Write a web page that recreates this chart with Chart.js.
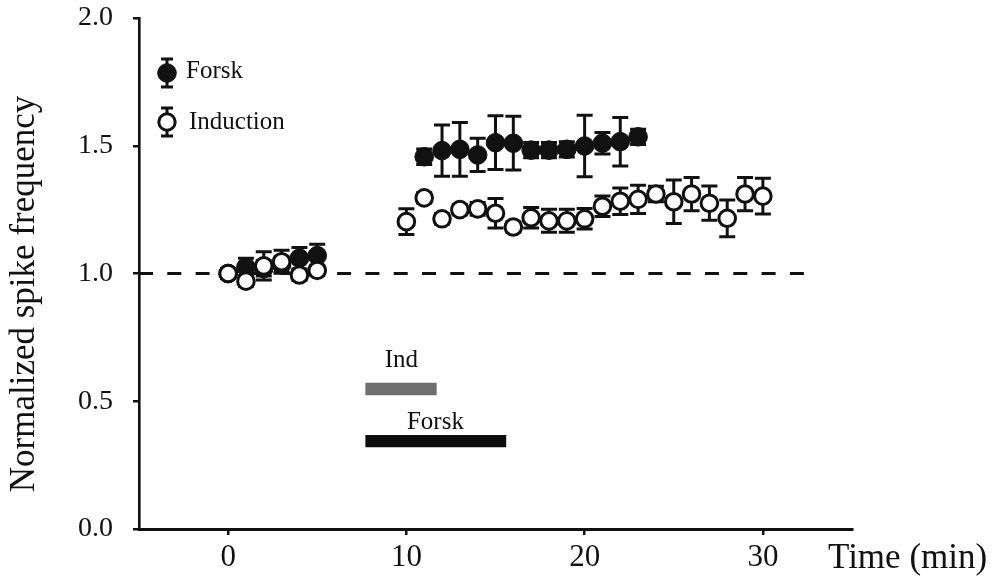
<!DOCTYPE html>
<html>
<head>
<meta charset="utf-8">
<script src="https://cdn.jsdelivr.net/npm/chart.js@4.4.1/dist/chart.umd.min.js"></script>
<style>
  html, body { margin: 0; padding: 0; background: #fff; }
  #wrap { width: 992px; height: 581px; }
</style>
</head>
<body>
<div id="wrap"><canvas id="c" width="992" height="581"></canvas></div>
<script>
// Induction (open circles): time in minutes, normalized mean, SEM
const timeInduction = [0, 1, 2, 3, 4, 5, 10, 11, 12, 13, 14, 15, 16, 17, 18, 19, 20, 21, 22, 23, 24, 25, 26, 27, 28, 29, 30];
const meanInduction = [1.00, 0.97, 1.03, 1.046, 0.994, 1.012, 1.203, 1.296, 1.214, 1.25, 1.253, 1.236, 1.182, 1.218, 1.206, 1.206, 1.214, 1.263, 1.283, 1.29, 1.311, 1.281, 1.311, 1.275, 1.216, 1.311, 1.303];
const semInduction  = [0.02, 0.02, 0.055, 0.045, 0.02, 0.02, 0.05, 0.02, 0.02, 0.02, 0.025, 0.058, 0.02, 0.04, 0.045, 0.045, 0.04, 0.04, 0.052, 0.055, 0.03, 0.085, 0.065, 0.067, 0.072, 0.065, 0.07];

// Forskolin (filled circles)
const timeForsk = [0, 1, 2, 3, 4, 5, 11, 12, 13, 14, 15, 16, 17, 18, 19, 20, 21, 22, 23];
const meanForsk = [1.00, 1.025, 1.02, 1.035, 1.06, 1.07, 1.457, 1.481, 1.486, 1.464, 1.512, 1.51, 1.483, 1.483, 1.486, 1.499, 1.51, 1.516, 1.535];
const semForsk  = [0.02, 0.035, 0.03, 0.03, 0.042, 0.044, 0.03, 0.10, 0.105, 0.065, 0.105, 0.105, 0.03, 0.03, 0.03, 0.12, 0.042, 0.095, 0.03];

// Baseline reference (normalized = 1)
const baselineX = [-5, 33];
const baselineY = [1, 1];

// Application periods (minutes) and the level where each bar is drawn
const indPeriod = [7.7, 11.7];
const indPeriodLevel = 0.548;
const forskPeriod = [7.7, 15.6];
const forskPeriodLevel = 0.344;

// Axis ticks
const xTickValues = [0, 10, 20, 30];
const yTickValues = [0, 0.5, 1.0, 1.5, 2.0];

const INK = '#111';
const SERIF = '"Liberation Serif", "Times New Roman", serif';

const toPoints = (xs, ys) => xs.map((x, i) => ({ x: x, y: ys[i] }));

// Vertical error bars with caps, drawn under the markers
const errorBars = {
  id: 'errorBars',
  beforeDatasetsDraw(chart) {
    const { ctx, scales: { x, y } } = chart;
    ctx.save();
    ctx.strokeStyle = INK;
    ctx.lineWidth = 3;
    ctx.lineCap = 'butt';
    chart.data.datasets.forEach((ds) => {
      if (!ds.errors) return;
      ds.data.forEach((p, i) => {
        const e = ds.errors[i];
        const px = x.getPixelForValue(p.x);
        const top = y.getPixelForValue(p.y + e);
        const bot = y.getPixelForValue(p.y - e);
        const hw = 8;
        ctx.beginPath();
        ctx.moveTo(px, top); ctx.lineTo(px, bot);
        ctx.moveTo(px - hw, top); ctx.lineTo(px + hw, top);
        ctx.moveTo(px - hw, bot); ctx.lineTo(px + hw, bot);
        ctx.stroke();
      });
    });
    ctx.restore();
  }
};

// Axis titles, legend and period labels
const annotations = {
  id: 'annotations',
  afterDraw(chart) {
    const { ctx, scales: { x, y } } = chart;
    ctx.save();
    ctx.fillStyle = INK;

    // y axis title
    ctx.save();
    ctx.translate(25, 294);
    ctx.rotate(-Math.PI / 2);
    ctx.font = '35px ' + SERIF;
    ctx.textAlign = 'center';
    ctx.textBaseline = 'middle';
    ctx.fillText('Normalized spike frequency', 0, 0);
    ctx.restore();

    // x axis title
    ctx.font = '35px ' + SERIF;
    ctx.textAlign = 'left';
    ctx.textBaseline = 'alphabetic';
    ctx.fillText('Time (min)', 828, 568);

    // legend
    const drawKey = (cx, cy, filled, label, tx, ty) => {
      ctx.strokeStyle = INK;
      ctx.lineWidth = 3;
      ctx.beginPath();
      ctx.moveTo(cx, cy - 14); ctx.lineTo(cx, cy + 14);
      ctx.moveTo(cx - 6, cy - 14); ctx.lineTo(cx + 6, cy - 14);
      ctx.moveTo(cx - 6, cy + 14); ctx.lineTo(cx + 6, cy + 14);
      ctx.stroke();
      ctx.beginPath();
      ctx.arc(cx, cy, filled ? 9.3 : 8.2, 0, Math.PI * 2);
      ctx.fillStyle = filled ? INK : '#fff';
      ctx.fill();
      ctx.lineWidth = filled ? 1 : 3;
      ctx.stroke();
      ctx.fillStyle = INK;
      ctx.font = '25px ' + SERIF;
      ctx.textAlign = 'left';
      ctx.textBaseline = 'alphabetic';
      ctx.fillText(label, tx, ty);
    };
    drawKey(167, 73, true, 'Forsk', 186, 78);
    drawKey(167, 122, false, 'Induction', 189, 129);

    // period labels above the bars
    ctx.font = '25px ' + SERIF;
    ctx.textAlign = 'center';
    ctx.textBaseline = 'alphabetic';
    ctx.fillText('Ind', x.getPixelForValue(9.72), y.getPixelForValue(0.633));
    ctx.fillText('Forsk', x.getPixelForValue(11.63), y.getPixelForValue(0.39));
    ctx.restore();
  }
};

new Chart(document.getElementById('c'), {
  type: 'scatter',
  data: {
    datasets: [
      {
        label: 'Induction',
        data: toPoints(timeInduction, meanInduction),
        errors: semInduction,
        pointRadius: 8.3,
        pointHoverRadius: 8.3,
        pointBackgroundColor: '#fff',
        pointBorderColor: INK,
        pointBorderWidth: 3,
        showLine: false,
        order: 1
      },
      {
        label: 'Forsk',
        data: toPoints(timeForsk, meanForsk),
        errors: semForsk,
        pointRadius: 9.3,
        pointHoverRadius: 9.3,
        pointBackgroundColor: INK,
        pointBorderColor: INK,
        pointBorderWidth: 1,
        showLine: false,
        order: 2
      },
      {
        label: 'baseline',
        data: toPoints(baselineX, baselineY),
        showLine: true,
        borderColor: INK,
        borderWidth: 3.2,
        borderDash: [14, 14.3],
        pointRadius: 0,
        order: 3
      },
      {
        label: 'Ind period',
        data: toPoints(indPeriod, [indPeriodLevel, indPeriodLevel]),
        showLine: true,
        borderColor: '#6f6f6f',
        borderWidth: 12.3,
        borderCapStyle: 'butt',
        pointRadius: 0,
        order: 3
      },
      {
        label: 'Forsk period',
        data: toPoints(forskPeriod, [forskPeriodLevel, forskPeriodLevel]),
        showLine: true,
        borderColor: '#0d0d0d',
        borderWidth: 12.3,
        borderCapStyle: 'butt',
        pointRadius: 0,
        order: 3
      }
    ]
  },
  options: {
    responsive: false,
    animation: false,
    devicePixelRatio: 1,
    layout: { padding: { left: 0, right: 140, top: 0, bottom: 0 } },
    plugins: { legend: { display: false }, tooltip: { enabled: false } },
    scales: {
      x: {
        type: 'linear',
        min: -5,
        max: 35,
        afterBuildTicks: (s) => { s.ticks = xTickValues.map(v => ({ value: v })); },
        afterFit: (s) => { s.height = 52; s.paddingLeft = 0; s.paddingRight = 0; },
        ticks: {
          color: INK,
          font: { family: SERIF, size: 31 },
          padding: 4,
          maxRotation: 0,
          callback: (v) => String(v)
        },
        grid: { drawOnChartArea: false, drawTicks: true, tickLength: 6, color: INK, lineWidth: 2.5 },
        border: { display: true, color: INK, width: 3 }
      },
      y: {
        type: 'linear',
        min: 0,
        max: 2,
        afterBuildTicks: (s) => { s.ticks = yTickValues.map(v => ({ value: v })); },
        afterFit: (s) => { s.width = 139; s.paddingTop = 18; s.paddingBottom = 0; },
        ticks: {
          color: INK,
          font: { family: SERIF, size: 28 },
          padding: 20,
          callback: (v) => Number(v).toFixed(1)
        },
        grid: { drawOnChartArea: false, drawTicks: true, tickLength: 6, color: INK, lineWidth: 2.5 },
        border: { display: true, color: INK, width: 2.6 }
      }
    }
  },
  plugins: [errorBars, annotations]
});
</script>
</body>
</html>
